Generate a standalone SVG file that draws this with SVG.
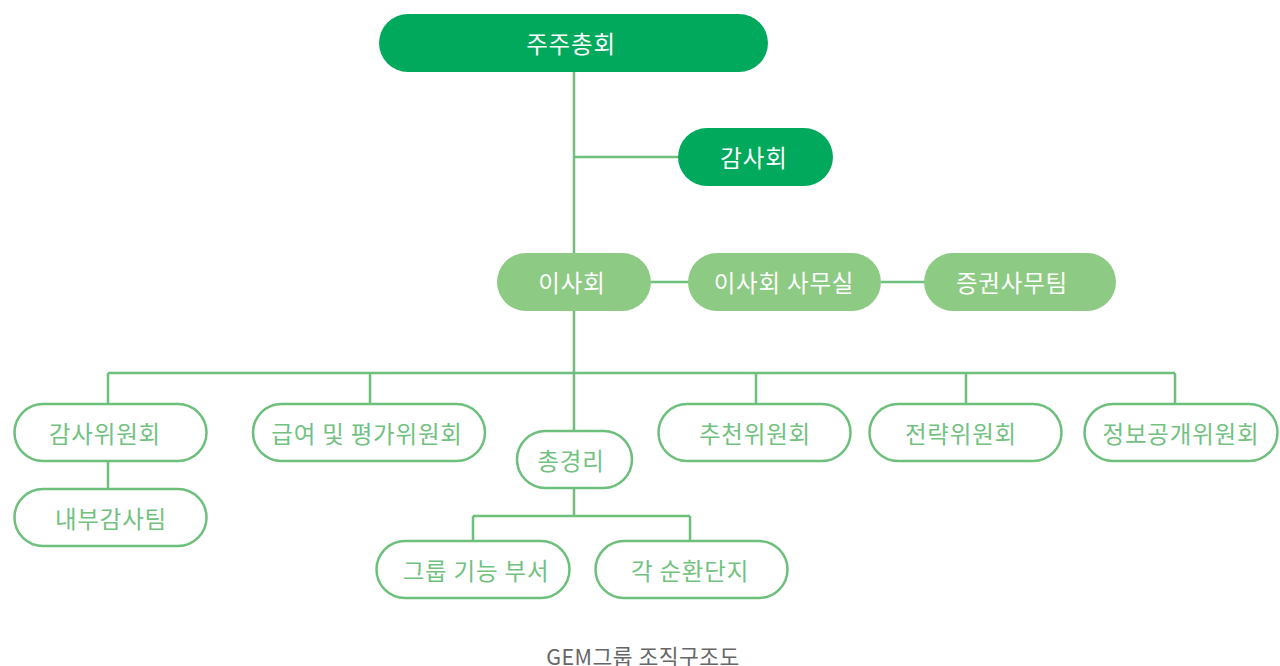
<svg xmlns="http://www.w3.org/2000/svg" width="1280" height="666" viewBox="0 0 1280 666">
<style>
text{font-family:"Noto Sans CJK KR","Noto Sans",sans-serif;font-size:23.5px;letter-spacing:0.8px;text-anchor:middle;dominant-baseline:central}
.dark rect{fill:#00a95c}
.light rect{fill:#8dca84}
.dark text,.light text{fill:#ffffff}
.out rect{fill:#ffffff;stroke:#6dbf7c;stroke-width:2.5}
.out text{fill:#72c17f}
#connectors path{fill:none;stroke:#6dbf7c;stroke-width:2.5}
.cap{fill:#666666;font-size:21.5px;letter-spacing:0.5px}
</style>
<rect width="1280" height="666" fill="#ffffff"/>
<g id="connectors">
<path d="M574 72V431"/>
<path d="M574 157H679"/>
<path d="M651 282H689M881 282H925"/>
<path d="M108 373H1175M108 373V404M370 373V404M756 373V404M966 373V404M1175 373V404"/>
<path d="M108 461V489"/>
<path d="M574 489V516M473 516H690M473 516V542M690 516V542"/>
</g>
<g id="n-shareholders" class="dark"><rect x="379" y="14" width="389" height="58" rx="29"/><text x="571" y="43">주주총회</text></g>
<g id="n-audit" class="dark"><rect x="678" y="128" width="155" height="58" rx="29"/><text x="754" y="157">감사회</text></g>
<g id="n-board" class="light"><rect x="497" y="253" width="154" height="58" rx="29"/><text x="572" y="282">이사회</text></g>
<g id="n-board-office" class="light"><rect x="688" y="253" width="193" height="58" rx="29"/><text x="784" y="282">이사회 사무실</text></g>
<g id="n-securities" class="light"><rect x="924" y="253" width="192" height="58" rx="29"/><text x="1012" y="282">증권사무팀</text></g>
<g id="n-audit-comm" class="out"><rect x="14.5" y="404" width="192" height="57" rx="28.5"/><text x="105" y="433">감사위원회</text></g>
<g id="n-internal-audit" class="out"><rect x="14.5" y="489" width="192" height="57" rx="28.5"/><text x="111" y="518">내부감사팀</text></g>
<g id="n-comp" class="out"><rect x="253" y="404" width="232" height="57" rx="28.5"/><text x="367" y="433">급여 및 평가위원회</text></g>
<g id="n-gm" class="out"><rect x="517" y="431" width="115" height="57" rx="28.5"/><text x="571" y="460">총경리</text></g>
<g id="n-func" class="out"><rect x="376.5" y="541" width="193" height="57" rx="28.5"/><text x="476" y="570">그룹 기능 부서</text></g>
<g id="n-cluster" class="out"><rect x="595.5" y="541" width="192" height="57" rx="28.5"/><text x="690" y="570">각 순환단지</text></g>
<g id="n-nomination" class="out"><rect x="658.5" y="404" width="192" height="57" rx="28.5"/><text x="755" y="433">추천위원회</text></g>
<g id="n-strategy" class="out"><rect x="869.5" y="404" width="192" height="57" rx="28.5"/><text x="961" y="433">전략위원회</text></g>
<g id="n-disclosure" class="out"><rect x="1084.5" y="404" width="193" height="57" rx="28.5"/><text x="1181" y="433">정보공개위원회</text></g>
<text class="cap" x="643" y="655">GEM그룹 조직구조도</text>
</svg>
